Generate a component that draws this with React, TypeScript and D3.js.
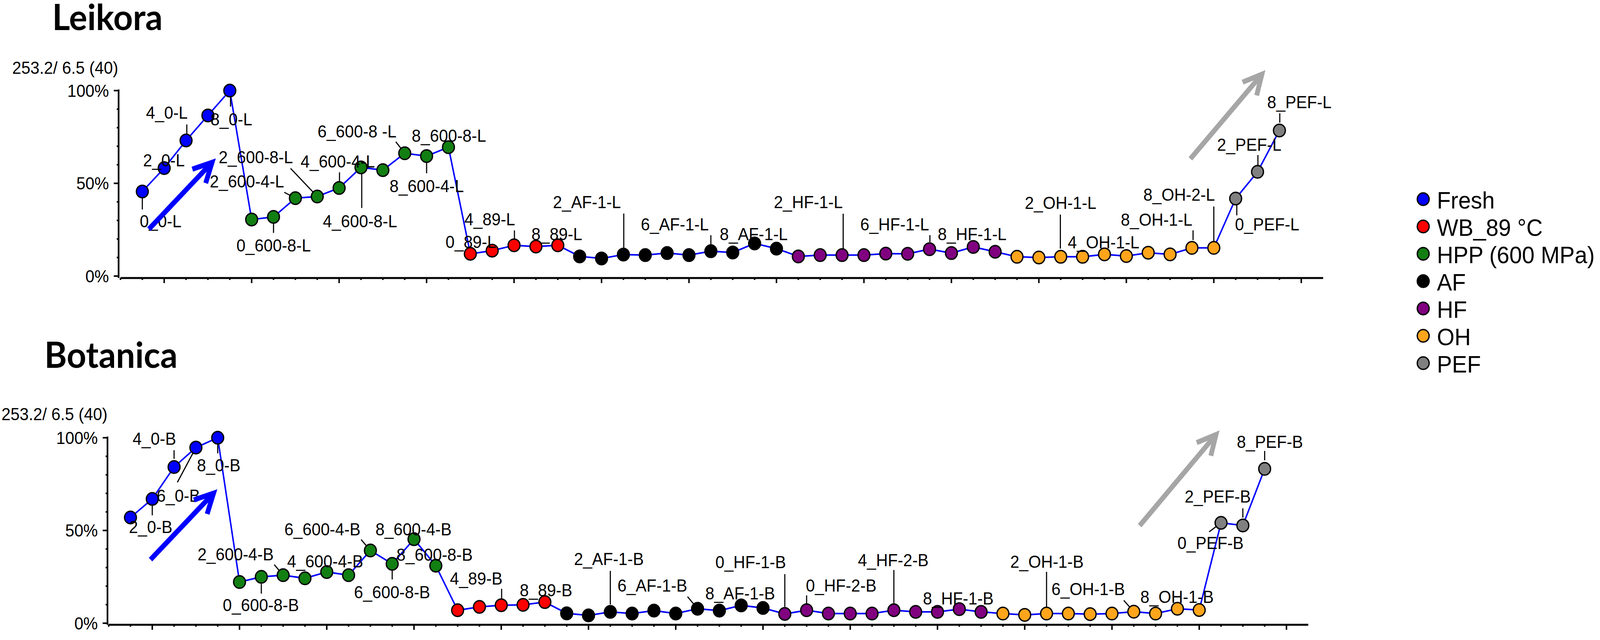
import React, { useEffect } from "react";
import * as d3 from "d3";

// ---------- data ----------
const categories = ["Fresh", "WB_89 °C", "HPP (600 MPa)", "AF", "HF", "OH", "PEF"];
// order in which the treatment groups appear along the x axis (index into categories) and their sizes
const seriesOrder = [0, 2, 1, 3, 4, 5, 6];
const seriesSizes = [5, 10, 5, 10, 10, 10, 3];
const panelTitles = ["Leikora", "Botanica"];
const scaleNote = "253.2/ 6.5 (40)";
const yTickValues = [0, 50, 100];
const yTickLabels = ["0%", "50%", "100%"];

const leikoraValues = [
  45.6, 58.2, 73.1, 86.6, 100,
  30.5, 31.9, 42.0, 42.9, 47.5, 58.6, 57.1, 66.2, 64.7, 69.5,
  12.0, 13.7, 16.6, 15.9, 16.6,
  10.6, 9.5, 11.6, 11.3, 12.4, 11.3, 13.4, 12.7, 17.6, 14.8,
  10.6, 11.3, 11.3, 11.3, 12.1, 12.0, 14.5, 12.4, 15.7, 13.1,
  10.4, 10.0, 10.4, 10.4, 11.7, 10.8, 12.6, 11.7, 15.2, 15.2,
  41.8, 56.2, 78.5,
];

const botanicaValues = [
  57.0, 67.0, 84.2, 94.7, 100,
  22.2, 25.0, 25.9, 24.2, 27.6, 25.9, 39.2, 32.0, 45.3, 31.0,
  7.0, 8.8, 9.7, 9.9, 11.4,
  5.3, 4.2, 6.1, 5.2, 6.8, 5.2, 7.8, 6.8, 9.6, 8.2,
  5.0, 7.0, 5.2, 5.2, 5.2, 7.0, 6.1, 6.1, 7.6, 6.1,
  5.2, 4.5, 5.2, 5.2, 4.9, 5.2, 6.2, 5.2, 7.8, 7.1,
  54.1, 52.7, 83.2,
];

// point annotations: point index, text
const leikoraLabelTexts: [number, string][] = [
  [0, "0_0-L"], [1, "2_0-L"], [2, "4_0-L"], [4, "8_0-L"],
  [6, "0_600-8-L"], [7, "2_600-4-L"], [8, "2_600-8-L"], [9, "4_600-4-L"],
  [10, "4_600-8-L"], [12, "6_600-8 -L"], [14, "8_600-8-L"], [13, "8_600-4-L"],
  [15, "0_89-L"], [17, "4_89-L"], [18, "8_89-L"],
  [22, "2_AF-1-L"], [26, "6_AF-1-L"], [28, "8_AF-1-L"],
  [32, "2_HF-1-L"], [36, "6_HF-1-L"], [38, "8_HF-1-L"],
  [42, "2_OH-1-L"], [43, "4_OH-1-L"], [48, "8_OH-1-L"], [49, "8_OH-2-L"],
  [50, "0_PEF-L"], [51, "2_PEF-L"], [52, "8_PEF-L"],
];

const botanicaLabelTexts: [number, string][] = [
  [1, "2_0-B"], [2, "4_0-B"], [3, "6_0-B"], [4, "8_0-B"],
  [6, "0_600-8-B"], [7, "2_600-4-B"], [9, "4_600-4-B"], [11, "6_600-4-B"],
  [12, "6_600-8-B"], [13, "8_600-4-B"], [14, "8_600-8-B"],
  [17, "4_89-B"], [18, "8_89-B"],
  [22, "2_AF-1-B"], [26, "6_AF-1-B"], [28, "8_AF-1-B"],
  [30, "0_HF-1-B"], [31, "0_HF-2-B"], [35, "4_HF-2-B"], [38, "8_HF-1-B"],
  [42, "2_OH-1-B"], [46, "6_OH-1-B"], [48, "8_OH-1-B"],
  [50, "0_PEF-B"], [51, "2_PEF-B"], [52, "8_PEF-B"],
];

// ---------- styling / layout ----------
const categoryColors = ["#0000ff", "#ff0000", "#127f12", "#000000", "#800080", "#ffa51c", "#808080"];

// label placement: [dx, dy] of text start/baseline from point, optional leader [x1,y1,x2,y2]
type Place = { dx: number; dy: number; lead?: [number, number, number, number] };
const leikoraPlace: Place[] = [
  { dx: -7, dy: 92, lead: [0, 15, 0, 46] },
  { dx: -57, dy: -5 },
  { dx: -108, dy: -56, lead: [2, -41, 2, -16] },
  { dx: -52, dy: 89, lead: [2, 15, 2, 41] },
  { dx: -100, dy: 88.5, lead: [0, 11, 0, 41] },
  { dx: -231, dy: -27.5, lead: [-30, -15, 0, 0] },
  { dx: -266, dy: -85, lead: [-72, -72, 0, 0] },
  { dx: -104, dy: -52, lead: [1, -40, 1, -14] },
  { dx: -103, dy: 153, lead: [2, 0, 2, 104] },
  { dx: -235, dy: -40.5, lead: [-24, -29.5, 0, 0] },
  { dx: -99, dy: -14 },
  { dx: -100, dy: 92, lead: [0, 16, 0, 44] },
  { dx: -67, dy: -15 },
  { dx: -134, dy: -51, lead: [1, -38, 1, -14] },
  { dx: -12, dy: -16.5 },
  { dx: -190, dy: -119, lead: [1, -105, 1, -15] },
  { dx: -189, dy: -53, lead: [0, -41, 0, -15] },
  { dx: -94, dy: -8 },
  { dx: -184, dy: -120, lead: [3, -106, 3, -16] },
  { dx: -187, dy: -48, lead: [1, -36, 1, -18] },
  { dx: -96, dy: -17 },
  { dx: -97, dy: -122.6, lead: [-1, -108, -1, -21] },
  { dx: -40, dy: -21.6 },
  { dx: -192, dy: -57, lead: [3, -45, 3, -20] },
  { dx: -190, dy: -121, lead: [0, -106, 0, -3] },
  { dx: -2, dy: 81.5, lead: [3, 12, 3, 43] },
  { dx: -109, dy: -54, lead: [1, -43, 1, -16] },
  { dx: -33, dy: -57, lead: [1, -44, 1, -20] },
];
const botanicaPlace: Place[] = [
  { dx: -63, dy: 87, lead: [0, 17, 0, 42] },
  { dx: -112, dy: -57, lead: [0, -43, 0, -21] },
  { dx: -106, dy: 139, lead: [-50, 89, 0, 0] },
  { dx: -56, dy: 86, lead: [0, 15, 0, 40] },
  { dx: -104, dy: 88, lead: [0, 18, 0, 43] },
  { dx: -231, dy: -38, lead: [-24, -27, 0, 0] },
  { dx: -107, dy: -12 },
  { dx: -232, dy: -39, lead: [-25, -28, 0, 0] },
  { dx: -103, dy: 88, lead: [0, 15, 0, 40] },
  { dx: -104, dy: -10 },
  { dx: -106, dy: -13 },
  { dx: -138.5, dy: -53, lead: [1, -42, 1, -17] },
  { dx: -9, dy: -22 },
  { dx: -98, dy: -120, lead: [0, -105, 0, -19] },
  { dx: -216, dy: -44, lead: [-27, -31, 0, 0] },
  { dx: -97, dy: -15 },
  { dx: -187.5, dy: -117, lead: [0, -102, 0, -18] },
  { dx: -2, dy: -48, lead: [0, -38, 0, -16] },
  { dx: -97, dy: -113, lead: [0, -103, 0, -18] },
  { dx: -98, dy: -12 },
  { dx: -98, dy: -117, lead: [0, -107, 0, -16] },
  { dx: -222, dy: -43, lead: [-27, -29, 0, 0] },
  { dx: -100, dy: -15 },
  { dx: -117.5, dy: 66.5, lead: [-32, 23, 0, 0] },
  { dx: -157, dy: -59, lead: [0, -44, 0, -20] },
  { dx: -75, dy: -54, lead: [0, -46, 0, -22] },
];

type PanelLayout = {
  titleX: number; titleY: number; noteX: number; noteY: number;
  axisX: number; x0: number; step: number; y0: number; y100: number; xAxisY: number;
  // arrows in data coordinates: [index, value] tail -> tip
  blueArrow: [number, number, number, number];
  grayArrow: [number, number, number, number];
};
const panels: PanelLayout[] = [
  {
    titleX: 141, titleY: 77, noteX: 33, noteY: 189,
    axisX: 320, x0: 384, step: 59.0, y0: 707, y100: 232, xAxisY: 712,
    blueArrow: [0.3, 25.3, 3.19, 61.3],
    grayArrow: [47.93, 63.2, 51.2, 108.8],
  },
  {
    titleX: 120, titleY: 942, noteX: 4, noteY: 1076,
    axisX: 290, x0: 352, step: 58.85, y0: 1596, y100: 1121, xAxisY: 1600,
    blueArrow: [0.92, 34.3, 3.81, 70.1],
    grayArrow: [46.27, 52.6, 49.77, 101.7],
  },
];

const W = 4317, H = 1639;
const FONT = "'Liberation Sans', Arial, Helvetica, sans-serif";
const pointCategory: number[] = seriesSizes.flatMap((n, s) => Array(n).fill(seriesOrder[s]));

function Arrow({ x1, y1, x2, y2, color }: { x1: number; y1: number; x2: number; y2: number; color: string }) {
  const ang = Math.atan2(y1 - y2, x1 - x2);
  const L = 56, a = (27 * Math.PI) / 180;
  const ax = x2 + L * Math.cos(ang + a), ay = y2 + L * Math.sin(ang + a);
  const bx = x2 + L * Math.cos(ang - a), by = y2 + L * Math.sin(ang - a);
  return (
    <g stroke={color} strokeWidth={13} fill="none" strokeLinejoin="miter" strokeLinecap="butt">
      <line x1={x1} y1={y1} x2={x2} y2={y2} />
      <polyline points={`${ax},${ay} ${x2},${y2} ${bx},${by}`} />
    </g>
  );
}

function Panel({ p, values, title, labels, places }: {
  p: PanelLayout; values: number[]; title: string; labels: [number, string][]; places: Place[];
}) {
  const x = d3.scaleLinear().domain([0, 1]).range([p.x0, p.x0 + p.step]);
  const y = d3.scaleLinear().domain([0, 100]).range([p.y0, p.y100]);
  const line = d3.line<number>().x((_, i) => x(i)).y((v) => y(v));
  const minorY = d3.range(0, 101, 10);
  const xTicks = d3.range(-1, 54);
  return (
    <g>
      <text x={p.titleX} y={p.titleY} fontFamily="Lato, 'Open Sans', sans-serif" fontWeight={700} fontSize={92}>{title}</text>
      <text x={p.noteX} y={p.noteY} fontFamily={FONT} fontSize={44}>{scaleNote}</text>
      {/* y axis */}
      <line x1={p.axisX} x2={p.axisX} y1={y(100) - 3} y2={p.xAxisY} stroke="#000" strokeWidth={4.5} />
      {minorY.map((v) => (
        <line key={"my" + v} x1={p.axisX - (v % 50 === 0 ? 13 : 5)} x2={p.axisX} y1={y(v)} y2={y(v)} stroke="#000" strokeWidth={4} />
      ))}
      {yTickValues.map((v, k) => (
        <text key={"yt" + v} x={p.axisX - 26} y={y(v) + 16} textAnchor="end" fontFamily={FONT} fontSize={44}>{yTickLabels[k]}</text>
      ))}
      {/* x axis */}
      <line x1={x(-1)} x2={x(54)} y1={p.xAxisY} y2={p.xAxisY} stroke="#000" strokeWidth={5} />
      {xTicks.map((t) => {
        const major = ((t - 1) % 4 + 4) % 4 === 0;
        return <line key={"xt" + t} x1={x(t)} x2={x(t)} y1={p.xAxisY} y2={p.xAxisY + (major ? 13 : 5)} stroke="#000" strokeWidth={4} />;
      })}
      {/* series line */}
      <path d={line(values) || ""} fill="none" stroke="#0000ff" strokeWidth={4} />
      {/* leader lines */}
      {labels.map(([i], k) => {
        const pl = places[k];
        if (!pl.lead) return null;
        const px = x(i), py = y(values[i]);
        return <line key={"ld" + k} x1={px + pl.lead[0]} y1={py + pl.lead[1]} x2={px + pl.lead[2]} y2={py + pl.lead[3]} stroke="#000" strokeWidth={3} />;
      })}
      {/* markers */}
      {values.map((v, i) => (
        <circle key={"pt" + i} cx={x(i)} cy={y(v)} r={16} fill={categoryColors[pointCategory[i]]} stroke="#000" strokeWidth={3.5} />
      ))}
      {/* labels */}
      {labels.map(([i, txt], k) => {
        const pl = places[k];
        return (
          <text key={"lb" + k} x={x(i) + pl.dx} y={y(values[i]) + pl.dy} fontFamily={FONT} fontSize={44} fill="#000">{txt}</text>
        );
      })}
      <Arrow x1={x(p.blueArrow[0])} y1={y(p.blueArrow[1])} x2={x(p.blueArrow[2])} y2={y(p.blueArrow[3])} color="#0000ff" />
      <Arrow x1={x(p.grayArrow[0])} y1={y(p.grayArrow[1])} x2={x(p.grayArrow[2])} y2={y(p.grayArrow[3])} color="#a6a6a6" />
    </g>
  );
}

export default function App() {
  useEffect(() => {
    document.documentElement.style.overflow = "hidden";
    document.body.style.margin = "0";
    document.body.style.overflow = "hidden";
  }, []);
  const legendY = d3.scaleLinear().domain([0, 1]).range([510, 580]);
  return (
    <svg viewBox={`0 0 ${W} ${H}`} preserveAspectRatio="none"
      style={{ position: "fixed", left: 0, top: 0, width: "100vw", height: "100vh", background: "#fff", display: "block" }}>
      <rect x={0} y={0} width={W} height={H} fill="#fff" />
      <Panel p={panels[0]} values={leikoraValues} title={panelTitles[0]} labels={leikoraLabelTexts} places={leikoraPlace} />
      <Panel p={panels[1]} values={botanicaValues} title={panelTitles[1]} labels={botanicaLabelTexts} places={botanicaPlace} />
      <g>
        {categories.map((c, k) => (
          <g key={c}>
            <circle cx={3840} cy={legendY(k)} r={16} fill={categoryColors[k]} stroke="#000" strokeWidth={3.5} />
            <text x={3877} y={legendY(k) + 24} fontFamily={FONT} fontSize={61}>{c}</text>
          </g>
        ))}
      </g>
    </svg>
  );
}
